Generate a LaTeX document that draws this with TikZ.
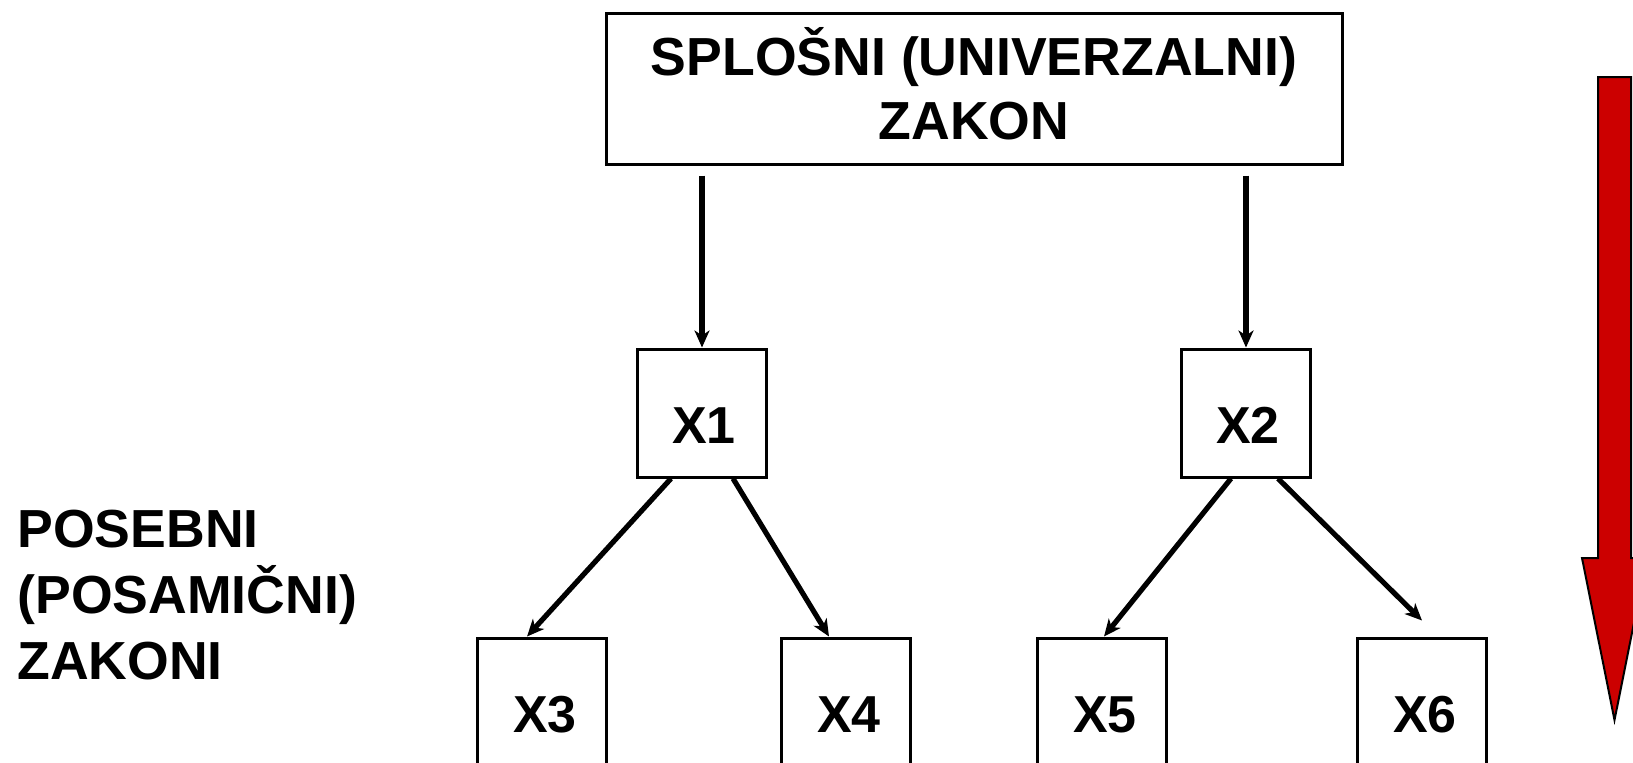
\documentclass[tikz,border=0pt]{standalone}
\usepackage{fontspec}
\setmainfont{Liberation Sans}
\usetikzlibrary{arrows.meta}
\definecolor{arrowred}{HTML}{CC0000}
\begin{document}
\begin{tikzpicture}[x=0.5pt,y=-0.5pt,
  box/.style={draw=black, line width=1.5pt, inner sep=0pt, minimum width=64.5pt, minimum height=64pt},
  lbl/.style={font=\fontsize{26}{32}\selectfont\bfseries, inner sep=0pt, anchor=base},
  biglbl/.style={lbl, font=\fontsize{26.8}{32}\selectfont\bfseries},
  conn/.style={line width=2.6pt, -{Stealth[length=8.5pt,width=7.5pt,inset=2.5pt]}}]
\useasboundingbox (0,0) rectangle (1633,762);
\clip (0,0) rectangle (1633,762);
\fill[white] (0,0) rectangle (1633,762);
% top box
\node[box, minimum width=368pt, minimum height=75.5pt] (top) at (974,88.5) {};
\node[biglbl] (t1) at (974,75) {SPLOŠNI (UNIVERZALNI)};
\node[biglbl] (t2) at (974,139) {ZAKON};
% middle boxes
\node[box] (x1) at (702,413) {};
\node[box] (x2) at (1246,413) {};
\node[lbl] (x1t) at (704,443) {X1};
\node[lbl] (x2t) at (1248,443) {X2};
% bottom boxes
\node[box] (x3) at (542,702) {};
\node[box] (x4) at (846,702) {};
\node[box] (x5) at (1102,702) {};
\node[box] (x6) at (1422,702) {};
\node[lbl] (x3t) at (545,732) {X3};
\node[lbl] (x4t) at (849,732) {X4};
\node[lbl] (x5t) at (1105,732) {X5};
\node[lbl] (x6t) at (1425,732) {X6};
% connectors
\draw[conn] ([yshift=-5pt]top.south -| x1.north) -- (x1.north);
\draw[conn] ([yshift=-5pt]top.south -| x2.north) -- (x2.north);
\draw[conn] ([xshift=-15.5pt]x1.south) -- ([xshift=-7.5pt]x3.north);
\draw[conn] ([xshift=15.5pt]x1.south) -- ([xshift=-8.5pt]x4.north);
\draw[conn] ([xshift=-7.5pt]x2.south) -- ([xshift=1pt]x5.north);
\draw[conn] ([xshift=16pt]x2.south) -- ([yshift=8pt]x6.north);
% left text
\node[biglbl, anchor=base west] (l1) at (17,547) {POSEBNI};
\node[biglbl, anchor=base west] (l2) at (17,613) {(POSAMIČNI)};
\node[biglbl, anchor=base west] (l3) at (17,679) {ZAKONI};
% red arrow
\draw[fill=arrowred, draw=black, line width=1pt, line join=miter]
  (1598,77) -- (1631,77) -- (1631,558) -- (1647,558) -- (1614.5,720) -- (1582,558) -- (1598,558) -- cycle;
\end{tikzpicture}
\end{document}
